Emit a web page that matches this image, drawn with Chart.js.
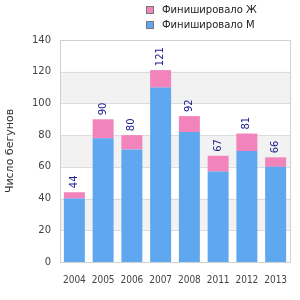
<!DOCTYPE html>
<html>
<head>
<meta charset="utf-8">
<script src="https://cdn.jsdelivr.net/npm/chart.js@4"></script>
<style>
  html, body { margin: 0; padding: 0; background: #fff; }
  #wrap { width: 300px; height: 300px; }
</style>
</head>
<body>
<div id="wrap"><canvas id="c" width="300" height="300"></canvas></div>
<script>
// данные
const years = ['2004', '2005', '2006', '2007', '2008', '2011', '2012', '2013'];
const finishedM = [40, 78, 71, 110, 82, 57, 70, 60];
const finishedF = [4, 12, 9, 11, 10, 10, 11, 6];
const yTicks = [0, 20, 40, 60, 80, 100, 120, 140];

const totals = years.map((_, i) => finishedM[i] + finishedF[i]);
const FONT = '"DejaVu Sans", sans-serif';
const FONT_X = '"DejaVu Sans Condensed", "Liberation Sans", sans-serif';

// полосы фона и рамка
const bandsPlugin = {
  id: 'bands',
  beforeDatasetsDraw(chart) {
    const { ctx, chartArea: a, scales: { y } } = chart;
    ctx.save();
    for (let i = 0; i < yTicks.length - 1; i++) {
      if (i % 2 === 1) {
        const top = y.getPixelForValue(yTicks[i + 1]);
        const bot = y.getPixelForValue(yTicks[i]);
        ctx.fillStyle = '#f2f2f2';
        ctx.fillRect(a.left, top, a.right - a.left, bot - top);
      }
    }
    ctx.strokeStyle = '#dcdcdc';
    ctx.lineWidth = 1;
    yTicks.forEach(v => {
      const py = Math.round(y.getPixelForValue(v)) + 0.5;
      ctx.beginPath(); ctx.moveTo(a.left, py); ctx.lineTo(a.right, py); ctx.stroke();
    });
    ctx.strokeStyle = '#d0d0d0';
    ctx.strokeRect(Math.round(a.left) + 0.5, Math.round(a.top) + 0.5,
      Math.round(a.right - a.left), Math.round(a.bottom - a.top));
    ctx.restore();
  }
};

// подписи сумм над столбцами
const totalsPlugin = {
  id: 'totals',
  afterDatasetsDraw(chart) {
    const { ctx } = chart;
    const meta = chart.getDatasetMeta(1);
    ctx.save();
    ctx.fillStyle = '#1a1a8c';
    ctx.font = '10px ' + FONT;
    ctx.textAlign = 'left';
    ctx.textBaseline = 'middle';
    meta.data.forEach((bar, i) => {
      ctx.save();
      ctx.translate(bar.x, bar.y - 4);
      ctx.rotate(-Math.PI / 2);
      ctx.fillText(String(totals[i]), 0, 0);
      ctx.restore();
    });
    ctx.restore();
  }
};

// легенда справа сверху, в столбик
const legendPlugin = {
  id: 'myLegend',
  afterDraw(chart) {
    const { ctx } = chart;
    const items = [chart.data.datasets[1], chart.data.datasets[0]];
    ctx.save();
    ctx.font = '10px ' + FONT;
    ctx.textBaseline = 'middle';
    items.forEach((ds, i) => {
      const cy = 10 + i * 15;
      ctx.fillStyle = ds.backgroundColor;
      ctx.fillRect(146, cy - 4, 8, 8);
      ctx.strokeStyle = '#777';
      ctx.lineWidth = 1;
      ctx.strokeRect(146.5, cy - 3.5, 7, 7);
      ctx.fillStyle = '#222';
      ctx.fillText(ds.label, 162, cy);
    });
    ctx.restore();
  }
};

new Chart(document.getElementById('c'), {
  type: 'bar',
  data: {
    labels: years,
    datasets: [
      { label: 'Финишировало М', data: finishedM, backgroundColor: '#5fa8f0' },
      { label: 'Финишировало Ж', data: finishedF, backgroundColor: '#f283bb' }
    ]
  },
  options: {
    responsive: false,
    animation: false,
    layout: { padding: { top: 40, right: 10, bottom: 10, left: 0 } },
    plugins: { legend: { display: false }, tooltip: { enabled: false } },
    datasets: { bar: { barPercentage: 0.73, categoryPercentage: 1 } },
    scales: {
      x: {
        stacked: true,
        grid: { display: false },
        border: { display: false },
        ticks: { color: '#444', font: { family: FONT_X, size: 10 }, maxRotation: 0, autoSkip: false, padding: 4 }
      },
      y: {
        stacked: true,
        min: 0, max: 140,
        grid: { display: false },
        border: { display: false },
        afterFit: s => { s.width = 60; },
        ticks: { stepSize: 20, color: '#444', font: { family: FONT, size: 10 }, padding: 1 },
        title: { display: true, text: 'Число бегунов', color: '#333', font: { family: FONT, size: 11 }, padding: 4 }
      }
    }
  },
  plugins: [bandsPlugin, totalsPlugin, legendPlugin]
});
</script>
</body>
</html>
